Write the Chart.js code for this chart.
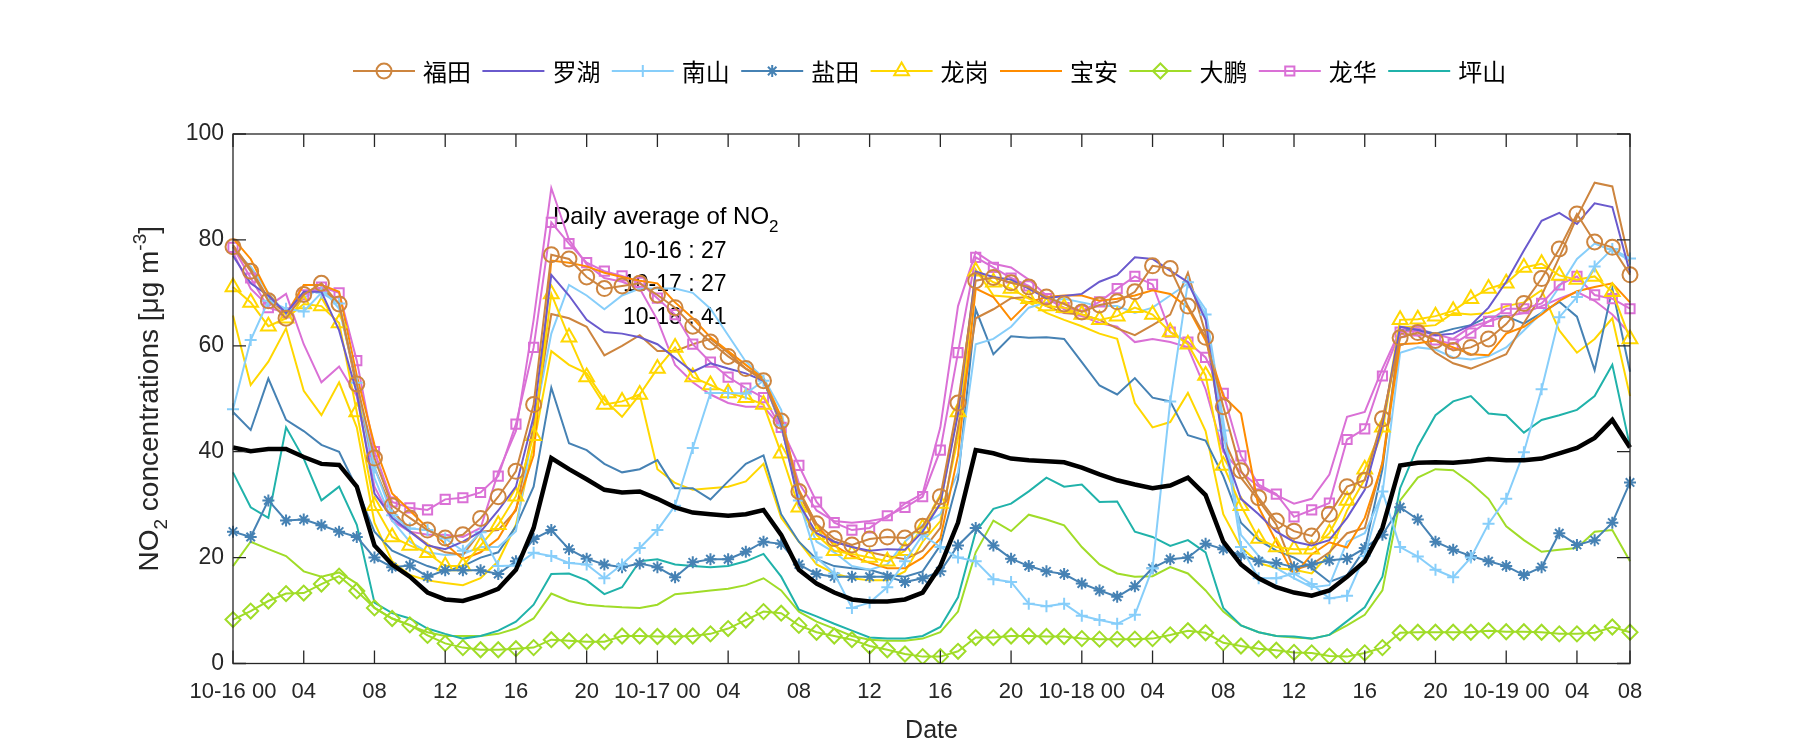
<!DOCTYPE html>
<html>
<head>
<meta charset="utf-8">
<script src="https://cdn.jsdelivr.net/npm/chart.js"></script>
<style>
html,body{margin:0;padding:0;background:#fff;}
#wrap{width:1800px;height:750px;}
</style>
</head>
<body>
<div id="wrap"><canvas id="no2Chart" width="1800" height="750"></canvas></div>
<script>
// hourly NO2 (ug/m3), 10-16 00 -> 10-19 07
const futian = [78.7,74.1,68.5,65.2,69.7,71.8,67.9,52.8,38.8,29.8,27.5,25.2,23.7,24.3,27.4,31.5,36.3,48.9,77.2,76.4,
  73.0,70.8,71.3,71.8,69.6,67.2,63.7,60.7,58.0,55.7,53.4,45.8,32.5,26.4,23.6,22.4,23.5,23.9,23.7,25.9,
  31.5,49.2,72.3,72.9,71.9,71.1,69.2,67.9,66.4,67.7,68.3,70.2,75.1,74.6,67.5,61.6,48.5,36.4,31.3,26.9,
  25.0,24.1,28.2,33.4,34.6,46.2,61.5,62.5,61.0,59.1,59.7,61.3,64.1,68.0,72.7,78.3,84.9,79.6,78.6,73.4];
const futianB = [79.0,74.5,69.0,66.0,70.0,71.0,68.0,52.0,37.0,29.0,25.0,22.5,21.0,20.5,24.9,25.2,28.9,45.0,66.0,65.2,
  63.6,58.2,60.0,62.0,59.0,59.0,60.3,61.3,58.7,55.7,53.8,44.6,32.1,25.6,23.0,22.0,21.0,20.3,19.7,21.3,
  25.6,44.6,65.2,66.9,69.0,69.2,67.5,66.2,65.9,64.9,63.3,62.0,63.9,65.9,73.8,62.3,42.6,35.1,30.8,26.2,
  17.7,18.7,21.0,24.6,25.6,38.0,62.3,62.0,58.7,56.7,55.7,57.0,58.4,64.3,69.5,76.7,84.3,90.8,90.1,75.4];
const luohu = [77.0,71.8,69.5,66.2,70.2,70.2,62.9,51.1,32.1,27.5,24.9,22.3,21.6,23.0,24.9,28.9,33.4,46.6,73.4,69.5,
  64.9,62.6,62.3,61.6,60.3,57.7,55.1,56.7,55.7,54.8,53.4,45.2,30.2,24.6,23.0,22.0,21.3,21.6,21.5,24.9,
  30.2,47.2,74.0,73.0,72.5,70.8,69.0,69.4,69.8,72.1,73.4,76.7,76.4,74.2,72.0,64.9,40.7,31.1,28.2,24.9,
  23.0,22.3,23.3,27.5,32.8,45.2,63.6,63.0,62.0,62.3,63.9,67.2,72.1,78.0,83.6,85.1,83.0,86.9,86.2,73.8];
const nanshan = [48.0,61.1,68.5,67.0,66.5,70.0,68.0,53.0,37.0,28.0,25.5,25.2,23.6,21.3,24.8,18.4,18.5,20.9,20.3,19.0,
  18.7,16.1,18.7,21.8,25.2,29.8,40.7,51.1,51.1,51.0,53.4,45.0,30.8,20.0,17.0,10.5,11.5,14.4,19.3,24.3,
  22.0,20.0,19.3,15.9,15.4,11.3,10.8,11.3,9.0,8.2,7.5,9.2,18.0,49.5,72.0,65.9,44.0,22.0,16.1,16.1,
  17.0,15.0,12.3,12.8,20.3,32.5,22.0,20.2,17.7,16.3,20.0,26.4,31.1,39.9,51.8,65.4,69.2,75.0,78.3,76.5];
const nanshanB = [78.0,75.0,70.0,66.0,69.0,71.0,67.0,53.0,35.0,27.0,23.0,21.0,20.5,20.7,22.0,22.0,25.0,45.0,62.3,71.5,
  69.5,66.9,69.5,70.8,70.8,70.8,70.0,67.0,62.0,57.0,54.0,47.9,30.8,23.0,21.0,18.4,17.7,18.7,23.0,26.2,
  28.2,36.1,60.3,61.3,63.6,67.2,68.2,68.9,68.2,67.5,67.5,66.2,67.2,69.5,71.8,66.9,45.9,24.3,20.3,18.0,
  16.1,14.4,14.8,23.0,24.6,32.1,58.7,59.7,59.3,57.8,57.4,58.0,59.7,62.9,66.2,71.1,76.4,79.3,78.0,76.1];
const yantian = [24.9,23.9,30.8,27.0,27.2,26.1,24.9,23.9,20.0,18.2,18.5,16.4,17.6,17.6,17.6,16.9,19.3,23.5,25.2,21.6,
  19.8,18.7,18.2,18.9,18.2,16.3,19.1,19.7,19.7,21.1,23.0,22.6,18.7,16.9,16.4,16.4,16.4,16.4,15.4,16.1,
  17.4,22.3,25.6,22.3,19.8,18.4,17.4,16.9,15.1,13.8,12.6,14.6,18.0,19.7,20.0,22.6,21.6,20.5,19.3,19.0,
  18.2,18.7,19.5,19.8,21.8,24.3,29.5,27.2,23.0,21.5,20.3,19.3,18.4,16.7,18.2,24.6,22.4,23.3,26.6,34.2];
const yantianB = [47.5,44.1,53.8,46.0,43.9,41.3,40.0,33.1,24.9,21.3,19.8,18.4,17.4,18.4,20.0,21.0,25.9,33.4,52.1,41.6,
  40.3,37.7,36.1,36.7,38.4,33.1,33.1,31.0,34.4,37.7,39.3,28.2,23.0,19.7,18.4,18.0,17.7,16.7,16.4,17.4,
  22.3,34.8,66.9,58.4,61.8,61.5,61.6,61.3,56.9,52.5,50.8,53.9,50.2,49.5,43.1,42.1,35.4,26.6,23.3,21.3,
  20.0,18.0,15.4,16.7,21.6,36.7,62.9,63.0,62.3,63.2,63.9,65.5,65.6,64.2,66.2,68.3,65.5,55.4,70.8,55.1];
const longgang = [71.1,68.2,63.7,65.2,67.9,67.5,64.3,47.5,29.8,23.9,22.3,20.9,18.4,18.4,22.3,26.2,31.6,43.0,69.8,61.6,
  54.1,48.9,49.5,50.8,55.7,59.7,54.1,52.6,51.1,50.2,48.9,39.7,29.5,24.3,21.3,20.7,20.0,19.3,21.3,25.6,
  30.2,47.5,74.1,72.0,70.8,68.9,67.5,67.2,65.9,64.9,65.6,67.2,65.9,62.6,60.3,54.4,37.4,29.8,23.6,22.0,
  21.6,21.6,24.6,30.8,36.7,44.6,64.9,65.0,65.6,66.6,68.9,70.8,71.8,74.8,75.5,73.3,72.5,73.1,70.2,61.3];
const longgangB = [65.7,52.6,57.0,63.3,51.5,46.9,53.1,44.6,26.6,19.3,16.7,15.7,15.2,14.8,16.1,19.3,26.2,41.3,59.0,56.4,
  54.8,49.8,46.6,50.8,36.7,34.1,32.8,33.1,33.4,34.4,37.7,27.5,23.0,18.7,17.0,16.1,15.7,15.7,17.4,23.0,
  26.9,42.6,74.4,69.5,69.2,68.2,66.2,64.9,63.7,62.3,61.3,49.2,44.6,45.6,51.1,43.9,28.2,22.0,19.0,18.0,
  17.7,17.0,20.7,28.9,34.8,43.9,63.6,63.6,63.9,66.2,65.9,66.2,67.5,68.2,70.5,62.9,58.7,61.3,65.2,50.5];
const baoan = [80.3,76.4,69.8,65.9,71.5,71.5,70.2,54.4,41.3,32.1,28.9,25.6,22.6,19.7,21.0,23.6,29.2,39.3,76.1,75.7,
  75.0,73.8,73.0,72.3,71.8,68.2,65.2,61.6,59.0,56.4,53.8,46.6,32.8,26.2,22.3,20.3,19.0,18.0,18.0,20.0,
  23.6,39.3,70.8,69.2,64.9,68.2,69.2,69.5,69.5,68.5,68.9,69.5,70.5,69.8,67.2,61.0,50.5,47.2,29.5,23.0,
  16.7,20.6,22.9,21.9,27.5,37.7,60.3,60.5,61.0,59.7,58.4,58.2,62.3,63.6,65.9,68.5,70.3,71.1,71.8,68.2];
const dapeng = [8.3,9.9,11.8,13.2,13.3,15.0,16.5,13.7,10.5,8.5,7.3,5.3,3.8,3.0,2.6,2.6,2.8,3.0,4.5,4.3,
  4.1,4.1,5.2,5.2,5.1,5.1,5.2,5.6,6.6,8.2,9.8,9.5,7.2,5.9,5.2,4.5,3.3,2.6,1.8,1.3,
  1.3,2.3,4.9,4.9,5.2,5.2,5.1,5.1,4.7,4.6,4.6,4.6,4.7,5.4,6.2,5.8,3.9,3.3,2.8,2.5,
  2.1,2.0,1.4,1.3,2.0,3.0,5.8,5.9,5.9,5.9,5.9,6.2,6.0,6.0,5.9,5.6,5.6,5.8,6.9,5.9];
const dapengB = [18.4,23.0,21.6,20.3,17.4,16.4,17.2,15.1,10.5,8.5,7.2,5.9,5.2,5.2,5.2,5.6,6.6,8.5,13.2,11.8,
  11.1,10.8,10.6,10.5,11.1,13.1,13.4,13.8,14.1,14.8,16.1,13.8,9.8,7.9,6.6,5.2,4.5,4.3,4.3,4.7,
  5.9,9.8,21.0,27.0,25.0,28.1,27.2,26.1,22.0,18.7,17.0,16.4,16.5,18.2,17.0,13.8,9.8,7.2,5.9,5.2,
  4.9,4.7,5.4,7.2,9.2,13.8,30.8,35.1,36.7,36.5,34.1,31.1,25.9,23.3,21.1,21.5,21.8,24.9,25.2,19.3];
const longhua = [78.6,72.8,67.2,66.2,69.6,71.1,70.0,57.2,40.0,30.5,29.4,29.0,31.0,31.3,32.3,35.4,45.2,59.7,83.3,79.3,
  75.7,74.1,73.2,72.0,69.0,65.9,60.3,56.9,54.1,52.0,50.2,44.6,37.4,30.5,26.6,25.2,25.6,27.9,29.5,31.5,
  40.3,58.7,76.7,74.8,72.8,71.3,68.9,67.2,66.6,68.3,70.8,73.1,71.6,62.6,60.7,57.8,51.0,39.2,33.8,32.0,
  27.7,29.0,30.3,42.3,44.3,54.3,62.6,62.8,61.1,60.3,62.4,64.6,67.0,67.0,68.0,71.5,73.1,69.6,68.9,67.0];
const longhuaB = [77.7,70.8,67.5,69.8,60.3,53.1,56.1,50.5,33.4,26.9,24.9,24.3,24.3,23.9,25.6,36.1,43.9,64.9,89.8,80.0,
  75.4,72.8,72.1,70.8,64.9,56.4,53.1,50.8,49.2,48.5,48.5,44.6,34.1,28.9,26.9,26.6,26.9,27.5,30.2,32.1,
  44.6,67.5,77.7,75.5,74.8,72.5,69.5,66.9,65.6,64.3,63.6,60.7,61.3,60.7,59.7,51.8,40.0,36.1,33.4,31.8,
  30.2,31.1,35.7,46.6,47.5,55.7,63.0,63.3,62.2,61.3,63.6,64.6,65.6,66.2,67.5,68.9,70.2,68.5,65.9,62.3];
const pingshan = [36.1,29.5,27.5,44.6,38.7,30.8,33.4,26.2,11.5,9.5,8.5,6.6,5.6,4.7,5.2,6.2,7.9,11.1,16.9,17.0,
  15.7,13.1,14.4,19.3,19.7,18.7,18.4,18.2,18.4,19.3,20.7,16.4,10.2,8.9,7.5,6.2,4.9,4.7,4.7,5.2,
  6.9,12.5,24.9,29.2,30.2,32.5,35.1,33.4,33.8,30.5,30.6,24.9,23.9,22.2,23.3,21.0,10.5,7.2,5.9,5.2,
  5.1,4.7,5.4,8.0,10.6,16.4,33.1,41.0,46.9,49.5,50.5,47.2,46.9,43.6,46.0,46.9,47.9,50.5,56.4,41.0];
const average = [40.8,40.1,40.5,40.5,39.0,37.7,37.5,33.4,22.3,18.7,16.4,13.4,12.1,11.8,12.8,14.1,17.7,25.6,38.8,36.7,
  34.8,32.8,32.3,32.5,31.1,29.5,28.5,28.2,27.9,28.2,29.0,24.3,17.7,15.1,13.4,12.1,11.7,11.7,12.1,13.4,
  18.4,26.6,40.3,39.7,38.7,38.4,38.2,38.0,37.0,35.7,34.6,33.8,33.1,33.6,35.1,31.8,23.0,18.7,16.1,14.4,
  13.4,12.8,13.8,16.4,19.3,25.6,37.4,37.9,38.0,37.9,38.2,38.6,38.4,38.4,38.7,39.7,40.7,42.6,46.0,40.8];

const tickIndex = [0,4,8,12,16,20,24,28,32,36,40,44,48,52,56,60,64,68,72,76,79];
const tickText = ['10-16 00','04','08','12','16','20','10-17 00','04','08','12','16','20',
  '10-18 00','04','08','12','16','20','10-19 00','04','08'];
const dailyAvgText = ['10-16 : 27','10-17 : 27','10-18 : 41'];

const cFutian = '#CD853F', cLuohu = '#6A5ACD', cNanshan = '#87CEFA', cYantian = '#4682B4',
      cLonggang = '#FFD700', cBaoan = '#FF8C00', cDapeng = '#A0DC28', cLonghua = '#DA70D6', cPingshan = '#20B2AA';
const fontFam = '"Liberation Sans", Arial, sans-serif';
const cjkFont = '"Noto Sans CJK SC", sans-serif';
const axisColor = '#262626';

const hours = futian.map(function (v, i) { return i; });

function lineSet(name, data, color, style, r, order) {
  return {
    label: name, data: data, borderColor: color, borderWidth: 2, fill: false, tension: 0,
    pointStyle: style || 'circle', pointRadius: style ? r : 0, pointHoverRadius: 0,
    pointBorderColor: color, pointBackgroundColor: 'rgba(0,0,0,0)', pointBorderWidth: 2,
    order: order
  };
}

const datasets = [
  { label: 'avg', data: average, borderColor: '#000', borderWidth: 4.5, pointRadius: 0, fill: false, order: 0 },
  lineSet('福田', futian, cFutian, 'circle', 7.5, 1),
  lineSet('罗湖', luohu, cLuohu, null, 0, 1),
  lineSet('南山', nanshan, cNanshan, 'cross', 6, 1),
  lineSet('盐田', yantian, cYantian, 'star', 6, 1),
  lineSet('龙岗', longgang, cLonggang, 'triangle', 8.5, 1),
  lineSet('宝安', baoan, cBaoan, null, 0, 1),
  lineSet('大鹏', dapeng, cDapeng, 'rectRot', 7.5, 1),
  lineSet('龙华', longhua, cLonghua, 'rect', 6.5, 1),
  lineSet('坪山', pingshan, cPingshan, null, 0, 1),
  lineSet('', futianB, cFutian, null, 0, 2),
  lineSet('', nanshanB, cNanshan, null, 0, 2),
  lineSet('', yantianB, cYantian, null, 0, 2),
  lineSet('', longgangB, cLonggang, null, 0, 2),
  lineSet('', dapengB, cDapeng, null, 0, 2),
  lineSet('', longhuaB, cLonghua, null, 0, 2)
];

function drawMarker(ctx, style, x, y, r, color) {
  ctx.save();
  ctx.strokeStyle = color; ctx.lineWidth = 2;
  ctx.beginPath();
  if (style === 'circle') {
    ctx.arc(x, y, r, 0, Math.PI * 2);
  } else if (style === 'cross') {
    ctx.moveTo(x - r, y); ctx.lineTo(x + r, y); ctx.moveTo(x, y - r); ctx.lineTo(x, y + r);
  } else if (style === 'star') {
    const d = r * Math.SQRT1_2;
    ctx.moveTo(x - r, y); ctx.lineTo(x + r, y); ctx.moveTo(x, y - r); ctx.lineTo(x, y + r);
    ctx.moveTo(x - d, y - d); ctx.lineTo(x + d, y + d); ctx.moveTo(x - d, y + d); ctx.lineTo(x + d, y - d);
  } else if (style === 'triangle') {
    const h = r * 0.5, w = r * Math.sqrt(3) / 2;
    ctx.moveTo(x, y - r); ctx.lineTo(x + w, y + h); ctx.lineTo(x - w, y + h); ctx.closePath();
  } else if (style === 'rectRot') {
    ctx.moveTo(x - r, y); ctx.lineTo(x, y - r); ctx.lineTo(x + r, y); ctx.lineTo(x, y + r); ctx.closePath();
  } else if (style === 'rect') {
    const s = r * Math.SQRT1_2;
    ctx.rect(x - s, y - s, 2 * s, 2 * s);
  }
  ctx.stroke();
  ctx.restore();
}

// text with sub/superscripts: parts = [text, size, dy]
function drawRich(ctx, parts, x, y, center) {
  let w = 0;
  parts.forEach(function (p) { ctx.font = p[1] + 'px ' + fontFam; w += ctx.measureText(p[0]).width; });
  let cx = center ? x - w / 2 : x;
  parts.forEach(function (p) {
    ctx.font = p[1] + 'px ' + fontFam;
    ctx.fillText(p[0], cx, y + p[2]);
    cx += ctx.measureText(p[0]).width;
  });
}

const annotationPlugin = {
  id: 'dailyText',
  beforeDatasetsDraw: function (chart) {
    const ctx = chart.ctx;
    ctx.save();
    ctx.fillStyle = '#000';
    ctx.textAlign = 'left'; ctx.textBaseline = 'alphabetic';
    drawRich(ctx, [['Daily average of NO', 24, 0], ['2', 17, 8]], 553, 224, false);
    dailyAvgText.forEach(function (t, i) {
      ctx.font = '23px ' + fontFam;
      ctx.fillText(t, 623, 258 + i * 33);
    });
    ctx.restore();
  }
};

const framePlugin = {
  id: 'frame',
  afterDatasetsDraw: function (chart) {
    const ctx = chart.ctx, a = chart.chartArea;
    const xs = chart.scales.x, ys = chart.scales.y;
    ctx.save();
    ctx.strokeStyle = axisColor; ctx.lineWidth = 1.3;
    ctx.strokeRect(a.left, a.top, a.right - a.left, a.bottom - a.top);
    ctx.beginPath();
    tickIndex.forEach(function (t) {
      const px = xs.getPixelForValue(t);
      ctx.moveTo(px, a.bottom); ctx.lineTo(px, a.bottom - 13);
      ctx.moveTo(px, a.top); ctx.lineTo(px, a.top + 13);
    });
    [0, 20, 40, 60, 80, 100].forEach(function (v) {
      const py = ys.getPixelForValue(v);
      ctx.moveTo(a.left, py); ctx.lineTo(a.left + 13, py);
      ctx.moveTo(a.right, py); ctx.lineTo(a.right - 13, py);
    });
    ctx.stroke();
    ctx.restore();
  },
  afterDraw: function (chart) {
    const ctx = chart.ctx, a = chart.chartArea;
    ctx.save();
    ctx.fillStyle = axisColor;
    ctx.textBaseline = 'alphabetic';
    // y title
    ctx.translate(158, (a.top + a.bottom) / 2);
    ctx.rotate(-Math.PI / 2);
    drawRich(ctx, [['NO', 28, 0], ['2', 19, 9], [' concentrations [', 28, 0], ['\u03BC', 28, 0], ['g m', 28, 0], ['-3', 19, -12], [']', 28, 0]], 0, 0, true);
    ctx.restore();
    ctx.save();
    ctx.fillStyle = axisColor;
    ctx.font = '25px ' + fontFam;
    ctx.textAlign = 'center'; ctx.textBaseline = 'middle';
    ctx.fillText('Date', (a.left + a.right) / 2, 731);
    ctx.restore();

    // legend
    ctx.save();
    let lx = 353;
    const ly = 71;
    chart.data.datasets.forEach(function (ds) {
      if (!ds.label || ds.label === 'avg') return;
      ctx.strokeStyle = ds.borderColor; ctx.lineWidth = 2;
      ctx.beginPath(); ctx.moveTo(lx, ly); ctx.lineTo(lx + 62, ly); ctx.stroke();
      if (ds.pointRadius > 0) drawMarker(ctx, ds.pointStyle, lx + 31, ly, ds.pointRadius, ds.borderColor);
      ctx.fillStyle = '#000';
      ctx.font = '24px ' + cjkFont;
      ctx.textAlign = 'left'; ctx.textBaseline = 'middle';
      ctx.fillText(ds.label, lx + 70, ly + 1);
      lx += 129.4;
    });
    ctx.restore();
  }
};

new Chart(document.getElementById('no2Chart'), {
  type: 'line',
  data: { labels: hours, datasets: datasets },
  options: {
    responsive: false,
    devicePixelRatio: 1,
    animation: false,
    layout: { padding: { left: 0, top: 134, right: 170, bottom: 0 } },
    plugins: { legend: { display: false }, tooltip: { enabled: false } },
    scales: {
      x: {
        type: 'category',
        grid: { display: false, drawTicks: false },
        border: { display: false },
        afterFit: function (scale) { scale.height = 86.5; },
        ticks: {
          autoSkip: false, maxRotation: 0, minRotation: 0, padding: 15,
          color: axisColor, font: { size: 22, family: fontFam },
          callback: function (val, idx) {
            const k = tickIndex.indexOf(idx);
            return k >= 0 ? tickText[k] : null;
          }
        }
      },
      y: {
        min: 0, max: 100,
        grid: { display: false, drawTicks: false },
        border: { display: false },
        afterFit: function (scale) { scale.width = 233; },
        ticks: { stepSize: 20, padding: 9, color: axisColor, font: { size: 23, family: fontFam } }
      }
    }
  },
  plugins: [annotationPlugin, framePlugin]
});
</script>
</body>
</html>
